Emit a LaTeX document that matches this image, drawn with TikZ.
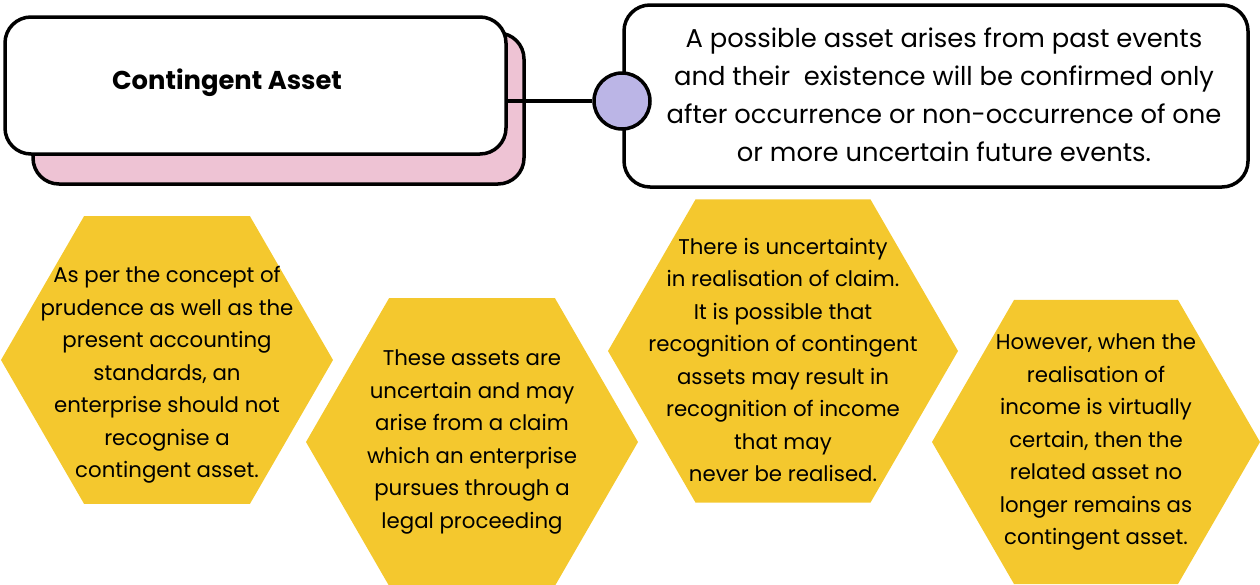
\documentclass[tikz,border=0pt]{standalone}
\usepackage{fontspec}
\setmainfont{Poppins}
\usetikzlibrary{shapes.geometric}
\definecolor{hexyellow}{HTML}{F4C82E}
\definecolor{backpink}{HTML}{EEC3D4}
\definecolor{dotlilac}{HTML}{BBB5E6}

\begin{document}
\begin{tikzpicture}[x = 1pt, y = -1pt,
    card/.style = {draw, line width = 3.5pt, rounded corners = 26pt, fill = white},
    hexcell/.style = {regular polygon, regular polygon sides = 6, fill = hexyellow, inner sep = 0pt, outer sep = 0pt},
    hextext/.style = {align = center, font = \fontsize{21.3}{32.5}\selectfont}]
    \useasboundingbox (0,0) rectangle (1260,584);
    % title cards
    \node[card, fill = backpink, minimum width = 491pt, minimum height = 151pt] (back) at (278.5,108.5) {};
    \node[card, minimum width = 501pt, minimum height = 137pt] (front) at (255.5,85.5) {};
    \node[font = \bfseries\fontsize{25.8}{30}\selectfont] (title) at (227,83) {Contingent Asset};
    \node[card, minimum width = 624pt, minimum height = 182pt] (defbox) at (936,96) {};
    \node[align = center, font = \fontsize{25.8}{38}\selectfont] (deftext) at (944,95)
        {A possible asset arises from past events\\
         and their~ existence will be confirmed only\\
         after occurrence or non-occurrence of one\\
         or more uncertain future events.};
    \node[circle, draw, line width = 3.5pt, fill = dotlilac, minimum size = 56pt] (dot) at (622,101) {};
    \draw[line width = 3.5pt] (dot.west) -- (dot.west -| front.east);
    % hexagons
    \node[hexcell, minimum size = 332pt] (hexA) at (167,360) {};
    \node[hexcell, minimum size = 332pt] (hexB) at (472,442) {};
    \node[hexcell, minimum size = 350pt] (hexC) at (783,351) {};
    \node[hexcell, minimum size = 328pt] (hexD) at (1096,442) {};
    \node[hextext] (txtA) at (167,375)
        {As per the concept of\\ prudence as well as the\\ present accounting\\ standards, an\\
         enterprise should not\\ recognise a\\ contingent asset.};
    \node[hextext] (txtB) at (472,442)
        {These assets are\\ uncertain and may\\ arise from a claim\\ which an enterprise\\
         pursues through a\\ legal proceeding};
    \node[hextext] (txtC) at (783,360)
        {There is uncertainty\\ in realisation of claim.\\ It is possible that\\ recognition of contingent\\
         assets may result in\\ recognition of income\\ that may\\ never be realised.};
    \node[hextext] (txtD) at (1096,442)
        {However, when the\\ realisation of\\ income is virtually\\ certain, then the\\
         related asset no\\ longer remains as\\ contingent asset.};
\end{tikzpicture}
\end{document}
